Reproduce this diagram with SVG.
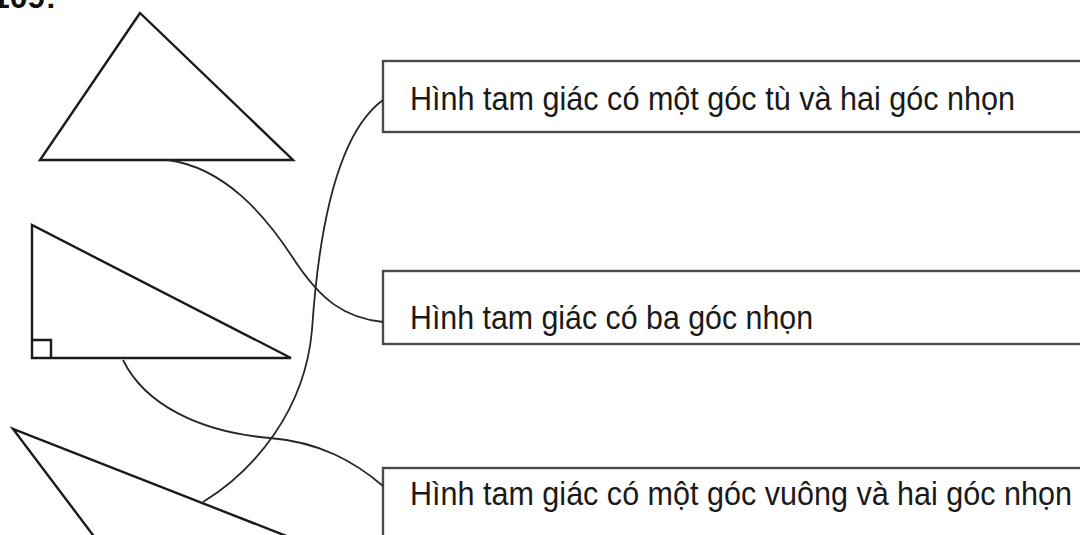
<svg xmlns="http://www.w3.org/2000/svg" width="1080" height="535" viewBox="0 0 1080 535">
  <style>
    .shape { fill: none; stroke: #1a1a1a; stroke-width: 2.4; stroke-linejoin: miter; }
    .box { fill: #ffffff; stroke: #4a4a4a; stroke-width: 2.4; }
    .label { font-family: "Liberation Sans", Arial, sans-serif; font-size: 34px; fill: #1a1a1a; }
    .link { fill: none; stroke: #262626; stroke-width: 1.8; }
    .num { font-family: "Liberation Sans", Arial, sans-serif; font-size: 32px; font-weight: bold; fill: #111; }
  </style>
  <rect width="1080" height="535" fill="#ffffff"/>

  <!-- exercise number, clipped by the top edge -->
  <text class="num" x="-8" y="8">109:</text>

  <!-- acute triangle -->
  <g id="tri-acute">
    <polygon class="shape" points="140,13 40,160 293,160"/>
  </g>

  <!-- right triangle with the right-angle mark -->
  <g id="tri-right">
    <polygon class="shape" points="32,225 32,358 291,358"/>
    <polyline class="shape" points="32,340 51,340 51,358"/>
  </g>

  <!-- obtuse triangle, running off the bottom edge -->
  <g id="tri-obtuse">
    <polyline class="shape" points="108,555 13,429 335,555"/>
  </g>

  <!-- answer boxes -->
  <g id="box-obtuse">
    <rect class="box" x="383" y="61" width="720" height="71"/>
    <text class="label" x="410" y="110" textLength="605" lengthAdjust="spacingAndGlyphs">Hình tam giác có một góc tù và hai góc nhọn</text>
  </g>
  <g id="box-acute">
    <rect class="box" x="383" y="271" width="720" height="73"/>
    <text class="label" x="410" y="329" textLength="403" lengthAdjust="spacingAndGlyphs">Hình tam giác có ba góc nhọn</text>
  </g>
  <g id="box-right">
    <rect class="box" x="383" y="468" width="720" height="90"/>
    <text class="label" x="410" y="505" textLength="662" lengthAdjust="spacingAndGlyphs">Hình tam giác có một góc vuông và hai góc nhọn</text>
  </g>

  <!-- matching lines -->
  <g id="connectors">
    <path class="link" d="M168,160 C225,168 265,215 293,258 S345,318 383,322"/>
    <path class="link" d="M203,502 C255,470 305,410 312,330 C318,240 335,135 383,100"/>
    <path class="link" d="M123,360 C145,405 200,432 270,438 C320,442 355,462 383,486"/>
  </g>
</svg>
